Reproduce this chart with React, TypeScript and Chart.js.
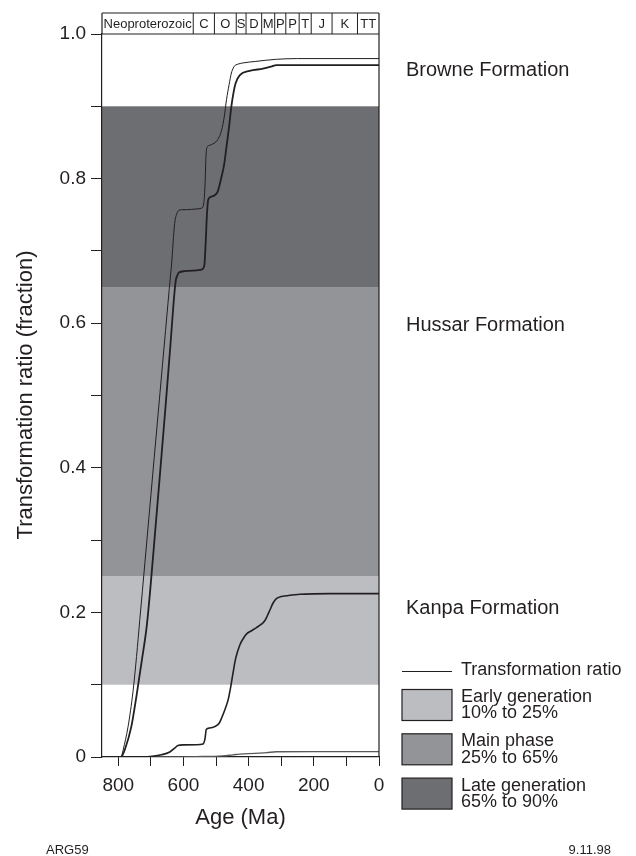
import React, { useEffect, useRef } from 'react';
import { Chart, registerables } from 'chart.js';

Chart.register(...registerables);

const FONT = '"Liberation Sans", Arial, Helvetica, sans-serif';
const INK = '#231f20';

// Curves (age in Ma, transformation ratio as fraction)
const browneThinAge = [790, 785, 770, 755, 744, 734, 726, 700, 690, 672, 655, 640, 637, 627, 620, 614, 606, 590, 560, 545, 538, 534, 531, 528, 520, 510, 500, 490, 483, 475, 468, 460, 453, 447, 443, 435, 417, 380, 315, 250, 0];
const browneThinTR = [0, 0.0097, 0.042, 0.09, 0.139, 0.19, 0.23, 0.362, 0.413, 0.504, 0.59, 0.665, 0.679, 0.738, 0.752, 0.756, 0.757, 0.757, 0.758, 0.759, 0.765, 0.79, 0.83, 0.843, 0.846, 0.848, 0.851, 0.858, 0.867, 0.885, 0.909, 0.93, 0.946, 0.953, 0.956, 0.958, 0.96, 0.962, 0.965, 0.966, 0.966];

const browneThickAge = [790, 780, 760, 744, 729, 713, 703, 690, 672, 655, 640, 630, 624, 618, 614, 596, 560, 545, 536, 532, 528, 524, 515, 504, 495, 483, 475, 468, 460, 453, 446, 440, 427, 397, 356, 330, 315, 0];
const browneThickTR = [0, 0.01, 0.042, 0.085, 0.13, 0.18, 0.226, 0.295, 0.392, 0.485, 0.57, 0.63, 0.658, 0.667, 0.67, 0.672, 0.673, 0.674, 0.68, 0.71, 0.75, 0.771, 0.775, 0.777, 0.782, 0.803, 0.82, 0.844, 0.872, 0.9, 0.92, 0.932, 0.943, 0.949, 0.952, 0.955, 0.957, 0.957];

const kanpaAge = [790, 740, 703, 668, 642, 625, 617, 600, 560, 540, 534, 530, 520, 504, 490, 483, 475, 463, 455, 448, 440, 427, 415, 407, 390, 376, 360, 351, 343, 335, 325, 315, 300, 284, 243, 150, 0];
const kanpaTR = [0, 0, 0.0005, 0.003, 0.007, 0.013, 0.016, 0.0168, 0.017, 0.018, 0.025, 0.038, 0.04, 0.042, 0.047, 0.054, 0.063, 0.079, 0.097, 0.116, 0.136, 0.155, 0.165, 0.17, 0.175, 0.179, 0.184, 0.188, 0.195, 0.203, 0.213, 0.219, 0.222, 0.223, 0.225, 0.226, 0.226];

const hussarAge = [700, 560, 480, 448, 427, 380, 345, 315, 200, 0];
const hussarTR = [0, 0.0005, 0.0015, 0.003, 0.004, 0.005, 0.006, 0.0073, 0.0075, 0.0075];

// Geological time scale strip
const periodBoundaries = [850, 570, 505, 438, 408, 360, 320, 286, 245, 208, 144, 66, 0];
const periodLabels = ['Neoproterozoic', 'C', 'O', 'S', 'D', 'M', 'P', 'P', 'T', 'J', 'K', 'TT'];

// Generation windows
const bandLow = [0.1, 0.25, 0.65];
const bandHigh = [0.25, 0.65, 0.9];
const bandColors = ['#bcbdc1', '#939498', '#6d6e71'];
const bandNames = ['Early generation', 'Main phase', 'Late generation'];
const bandRanges = ['10% to 25%', '25% to 65%', '65% to 90%'];

// Formation labels
const formationNames = ['Browne Formation', 'Hussar Formation', 'Kanpa Formation'];
const formationLabelTR = [0.95, 0.5975, 0.206];

const yTitle = 'Transformation ratio (fraction)';
const xTitle = 'Age (Ma)';
const leftNote = 'ARG59';
const rightNote = '9.11.98';
const lineLegend = 'Transformation ratio';

const toPts = (ages: number[], vals: number[]) => ages.map((a, i) => ({ x: a, y: vals[i] }));

const decorPlugin = {
  id: 'decor',
  beforeDraw(chart: any) {
    const { ctx, chartArea, scales } = chart;
    const y = scales.y;
    ctx.save();
    ctx.fillStyle = '#ffffff';
    ctx.fillRect(0, 0, chart.width, chart.height);
    for (let i = 0; i < bandLow.length; i++) {
      const top = y.getPixelForValue(bandHigh[i]);
      const bot = y.getPixelForValue(bandLow[i]);
      ctx.fillStyle = bandColors[i];
      ctx.fillRect(chartArea.left, top, chartArea.right - chartArea.left, bot - top);
    }
    ctx.restore();
  },
  afterDraw(chart: any) {
    const { ctx, chartArea, scales } = chart;
    const x = scales.x;
    const y = scales.y;
    const L = chartArea.left;
    const R = chartArea.right;
    const T = chartArea.top;
    const B = chartArea.bottom;
    ctx.save();
    ctx.strokeStyle = INK;
    ctx.fillStyle = INK;
    ctx.lineWidth = 1.2;
    // time strip
    const stripTop = T - 21;
    ctx.beginPath();
    ctx.moveTo(L, stripTop);
    ctx.lineTo(R, stripTop);
    ctx.moveTo(L, T);
    ctx.lineTo(R, T);
    ctx.moveTo(L, stripTop);
    ctx.lineTo(L, T);
    ctx.moveTo(R, stripTop);
    ctx.lineTo(R, B);
    ctx.stroke();
    ctx.lineWidth = 1;
    ctx.font = '13px ' + FONT;
    ctx.textAlign = 'center';
    ctx.textBaseline = 'middle';
    for (let i = 0; i < periodLabels.length; i++) {
      const x0 = x.getPixelForValue(periodBoundaries[i]);
      const x1 = x.getPixelForValue(periodBoundaries[i + 1]);
      if (i > 0) {
        ctx.beginPath();
        ctx.moveTo(x0, stripTop);
        ctx.lineTo(x0, T);
        ctx.stroke();
      }
      ctx.fillText(periodLabels[i], (x0 + x1) / 2, (stripTop + T) / 2 + 1);
    }
    // formation labels
    ctx.font = '20px ' + FONT;
    ctx.textAlign = 'left';
    for (let i = 0; i < formationNames.length; i++) {
      ctx.fillText(formationNames[i], R + 27, y.getPixelForValue(formationLabelTR[i]));
    }
    // axis titles
    ctx.font = '22px ' + FONT;
    ctx.textAlign = 'center';
    ctx.fillText(xTitle, (L + R) / 2, 818);
    ctx.save();
    ctx.translate(26, 395);
    ctx.rotate(-Math.PI / 2);
    ctx.fillText(yTitle, 0, 0);
    ctx.restore();
    // legend
    const lx = R + 23;
    ctx.lineWidth = 1;
    ctx.beginPath();
    ctx.moveTo(lx, 671.5);
    ctx.lineTo(lx + 50, 671.5);
    ctx.stroke();
    ctx.font = '18px ' + FONT;
    ctx.textAlign = 'left';
    ctx.fillText(lineLegend, lx + 59, 670);
    for (let i = 0; i < bandNames.length; i++) {
      const by = 689.5 + i * 44.3;
      ctx.fillStyle = bandColors[i];
      ctx.fillRect(lx, by, 50, 31);
      ctx.strokeStyle = INK;
      ctx.lineWidth = 1.2;
      ctx.strokeRect(lx, by, 50, 31);
      ctx.fillStyle = INK;
      ctx.fillText(bandNames[i], lx + 59, by + 7.5);
      ctx.fillText(bandRanges[i], lx + 59, by + 24);
    }
    // notes
    ctx.font = '13px ' + FONT;
    ctx.textAlign = 'left';
    ctx.fillText(leftNote, 46, 850);
    ctx.textAlign = 'right';
    ctx.fillText(rightNote, 611, 850);
    ctx.restore();
  },
};

export default function App() {
  const ref = useRef<HTMLCanvasElement | null>(null);
  useEffect(() => {
    if (!ref.current) return;
    const common = { pointRadius: 0, cubicInterpolationMode: 'monotone' as const, fill: false };
    const chart = new Chart(ref.current, {
      type: 'line',
      data: {
        datasets: [
          { label: 'Browne Formation (1)', data: toPts(browneThinAge, browneThinTR), borderColor: INK, borderWidth: 1, ...common },
          { label: 'Browne Formation (2)', data: toPts(browneThickAge, browneThickTR), borderColor: INK, borderWidth: 1.8, ...common },
          { label: 'Kanpa Formation', data: toPts(kanpaAge, kanpaTR), borderColor: INK, borderWidth: 1.6, ...common },
          { label: 'Hussar Formation', data: toPts(hussarAge, hussarTR), borderColor: '#58595b', borderWidth: 1.4, ...common },
        ],
      },
      options: {
        responsive: false,
        animation: false,
        devicePixelRatio: 1,
        layout: { padding: { left: 0, top: 34, right: 257, bottom: 0 } },
        plugins: { legend: { display: false }, tooltip: { enabled: false }, title: { display: false } },
        scales: {
          x: {
            type: 'linear',
            min: 0,
            max: 850,
            reverse: true,
            afterFit: (s: any) => { s.height = 99; },
            border: { display: true, color: INK, width: 1.2 },
            grid: { drawOnChartArea: false, drawTicks: true, tickLength: 9, color: INK, tickWidth: 1 },
            ticks: {
              stepSize: 100,
              includeBounds: false,
              maxRotation: 0,
              autoSkip: false,
              padding: 8,
              color: INK,
              font: { family: FONT, size: 19 },
              callback: (v: any) => (Number(v) % 200 === 0 ? String(v) : ''),
            },
          },
          y: {
            type: 'linear',
            min: 0,
            max: 1,
            afterFit: (s: any) => { s.width = 102; },
            border: { display: true, color: INK, width: 1.2 },
            grid: { drawOnChartArea: false, drawTicks: true, tickLength: 11, color: INK, tickWidth: 1 },
            ticks: {
              stepSize: 0.1,
              autoSkip: false,
              padding: 5,
              color: INK,
              font: { family: FONT, size: 19 },
              callback: (v: any) => {
                const n = Number(v);
                if (Math.abs(n * 5 - Math.round(n * 5)) > 1e-6) return '';
                return n === 0 ? '0' : n.toFixed(1);
              },
            },
          },
        },
      },
      plugins: [decorPlugin],
    });
    return () => chart.destroy();
  }, []);
  return (
    <div style={{ position: 'absolute', left: 0, top: 0, width: 636, height: 856 }}>
      <canvas ref={ref} width={636} height={856} />
    </div>
  );
}
